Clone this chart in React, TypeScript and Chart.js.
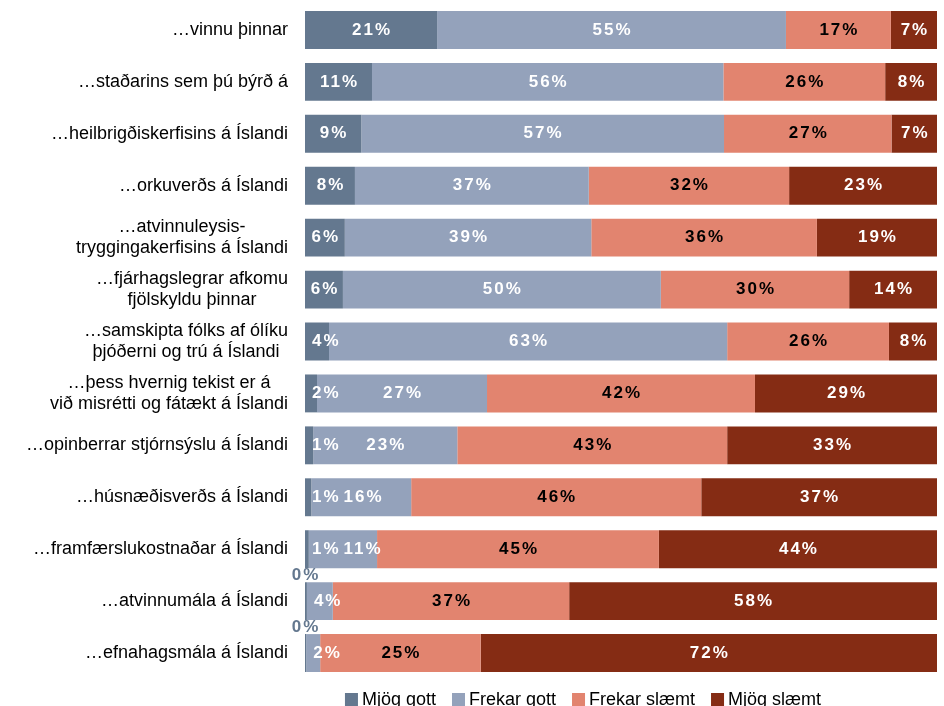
import React, { useEffect, useRef } from "react";
import { Chart, registerables } from "chart.js";

Chart.register(...registerables);

const categories: (string | string[])[] = [
  "…vinnu þinnar",
  "…staðarins sem þú býrð á",
  "…heilbrigðiskerfisins á Íslandi",
  "…orkuverðs á Íslandi",
  ["…atvinnuleysis-", "tryggingakerfisins á Íslandi"],
  ["…fjárhagslegrar afkomu", "fjölskyldu þinnar"],
  ["…samskipta fólks af ólíku", "þjóðerni og trú á Íslandi"],
  ["…þess hvernig tekist er á", "við misrétti og fátækt á Íslandi"],
  "…opinberrar stjórnsýslu á Íslandi",
  "…húsnæðisverðs á Íslandi",
  "…framfærslukostnaðar á Íslandi",
  "…atvinnumála á Íslandi",
  "…efnahagsmála á Íslandi",
];

const seriesNames = ["Mjög gott", "Frekar gott", "Frekar slæmt", "Mjög slæmt"];

const mjogGott = [20.9, 10.6, 8.9, 7.9, 6.3, 6.0, 3.8, 1.9, 1.3, 1.0, 0.6, 0.3, 0.2];
const frekarGott = [55.2, 55.6, 57.4, 37.0, 39.0, 50.3, 63.0, 26.9, 22.8, 15.8, 10.8, 4.1, 2.2];
const frekarSlaemt = [16.6, 25.6, 26.5, 31.7, 35.7, 29.8, 25.6, 42.4, 42.7, 45.9, 44.6, 37.4, 25.4];
const mjogSlaemt = [7.3, 8.2, 7.2, 23.4, 19.0, 13.9, 7.6, 28.8, 33.2, 37.3, 44.0, 58.2, 72.2];

const seriesColors = ["#64788F", "#94A2BB", "#E2846F", "#852C14"];
const labelColors = ["#FFFFFF", "#FFFFFF", "#000000", "#FFFFFF"];

const FONT = "'Liberation Sans', Arial, sans-serif";

const segLabelPlugin = {
  id: "segLabels",
  afterDatasetsDraw(chart: any) {
    const ctx = chart.ctx as CanvasRenderingContext2D;
    ctx.save();
    const spacing = 2;
    ctx.font = `bold 17px ${FONT}`;
    (ctx as any).letterSpacing = `${spacing}px`;
    ctx.textBaseline = "middle";
    ctx.textAlign = "left";
    const n = chart.data.labels.length;
    for (let i = 0; i < n; i++) {
      let prevRight = -Infinity;
      chart.data.datasets.forEach((ds: any, d: number) => {
        const bar: any = chart.getDatasetMeta(d).data[i];
        const v = ds.data[i];
        const r = Math.round(v);
        const txt = r + "%";
        const w = ctx.measureText(txt).width - spacing;
        const left = Math.min(bar.base, bar.x);
        const right = Math.max(bar.base, bar.x);
        const segW = right - left;
        if (r === 0) {
          ctx.fillStyle = seriesColors[d];
          ctx.fillText(txt, left - w / 2, bar.y - bar.height / 2 - 7);
          return;
        }
        let x: number;
        if (w + 2 <= segW) x = (left + right) / 2 - w / 2;
        else x = left + 7;
        if (x < prevRight + 5) x = prevRight + 5;
        ctx.fillStyle = labelColors[d];
        ctx.fillText(txt, x, bar.y);
        prevRight = x + w;
      });
    }
    ctx.restore();
  },
};

const yLabelPlugin = {
  id: "yLabels",
  afterDraw(chart: any) {
    const ctx = chart.ctx as CanvasRenderingContext2D;
    const yScale = chart.scales.y;
    ctx.save();
    ctx.font = `18px ${FONT}`;
    ctx.fillStyle = "#000000";
    ctx.textBaseline = "middle";
    ctx.textAlign = "center";
    const lh = 21;
    const right = chart.chartArea.left - 17;
    chart.data.labels.forEach((lab: any, i: number) => {
      const lines: string[] = Array.isArray(lab) ? lab : [lab];
      const y = yScale.getPixelForTick(i);
      const bw = Math.max(...lines.map((l) => ctx.measureText(l).width));
      const cx = right - bw / 2;
      lines.forEach((l, k) => {
        ctx.fillText(l, cx, y + (k - (lines.length - 1) / 2) * lh);
      });
    });
    ctx.restore();
  },
};

const legendPlugin = {
  id: "customLegend",
  afterDraw(chart: any) {
    const ctx = chart.ctx as CanvasRenderingContext2D;
    const area = chart.chartArea;
    ctx.save();
    ctx.font = `18px ${FONT}`;
    ctx.textBaseline = "alphabetic";
    ctx.textAlign = "left";
    const box = 13;
    const boxGap = 4;
    const itemGap = 16;
    const widths = chart.data.datasets.map((ds: any) => ctx.measureText(ds.label).width);
    const total =
      widths.reduce((a: number, b: number) => a + b + box + boxGap, 0) + itemGap * (widths.length - 1);
    const center = (area.left + area.right) / 2 - 38;
    let x = center - total / 2;
    const baseline = chart.height - 1;
    chart.data.datasets.forEach((ds: any, d: number) => {
      ctx.fillStyle = seriesColors[d];
      ctx.fillRect(x, baseline - 12, box, box);
      ctx.fillStyle = "#000000";
      ctx.fillText(ds.label, x + box + boxGap, baseline);
      x += box + boxGap + widths[d] + itemGap;
    });
    ctx.restore();
  },
};

export default function App() {
  const canvasRef = useRef<HTMLCanvasElement | null>(null);

  useEffect(() => {
    if (!canvasRef.current) return;
    const values = [mjogGott, frekarGott, frekarSlaemt, mjogSlaemt];
    const chart = new Chart(canvasRef.current, {
      type: "bar",
      data: {
        labels: categories,
        datasets: values.map((arr, d) => ({
          label: seriesNames[d],
          data: arr,
          backgroundColor: seriesColors[d],
          borderWidth: 0,
          barPercentage: 0.73,
          categoryPercentage: 1,
        })),
      },
      options: {
        indexAxis: "y",
        animation: false,
        responsive: false,
        maintainAspectRatio: false,
        layout: { padding: { top: 4, right: 7, bottom: 27, left: 0 } },
        plugins: {
          legend: { display: false },
          tooltip: { enabled: false },
        },
        scales: {
          x: {
            stacked: true,
            min: 0,
            max: 100,
            display: false,
          },
          y: {
            stacked: true,
            grid: { display: false },
            border: { display: false },
            ticks: { display: false },
            afterFit(scale: any) {
              scale.width = 305;
            },
          },
        },
      },
      plugins: [segLabelPlugin, yLabelPlugin, legendPlugin],
    });
    return () => chart.destroy();
  }, []);

  return (
    <div style={{ position: "fixed", left: 0, top: 0, width: 944, height: 706, background: "#fff" }}>
      <canvas ref={canvasRef} width={944} height={706} style={{ width: 944, height: 706, display: "block" }} />
    </div>
  );
}
